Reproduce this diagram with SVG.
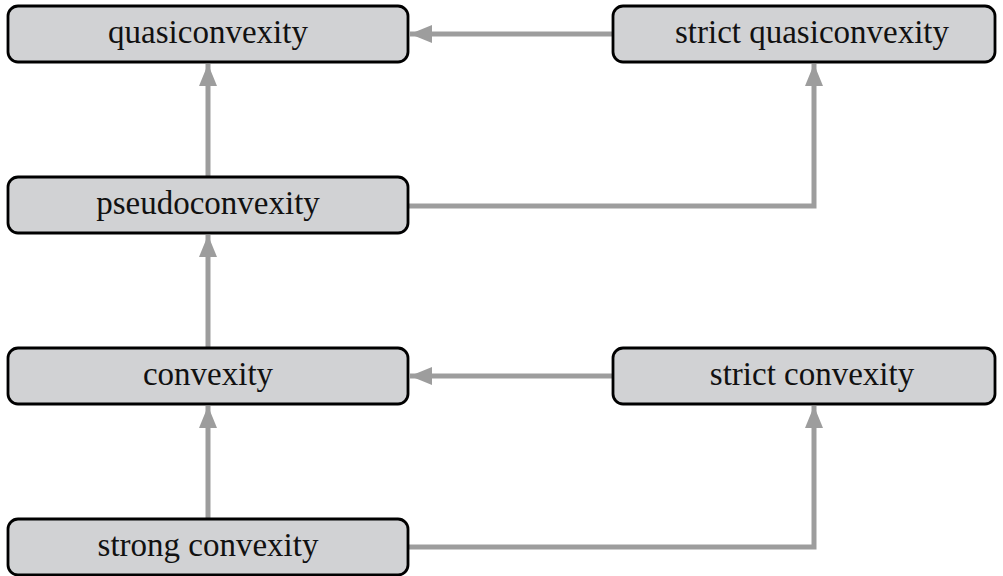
<svg xmlns="http://www.w3.org/2000/svg" width="1003" height="576" viewBox="0 0 1003 576">
<style>
.box{fill:#d1d2d4;stroke:#000;stroke-width:2.8}
.lbl{font-family:"Liberation Serif","DejaVu Serif",serif;font-size:33px;fill:#111;text-anchor:middle}
.con{fill:none;stroke:#9d9d9d;stroke-width:5}
</style>
<defs>
<marker id="ah" viewBox="0 0 22 18" refX="22" refY="9" markerWidth="22" markerHeight="18" markerUnits="userSpaceOnUse" orient="auto">
<path d="M0,0 L22,9 L0,18 Z" fill="#9d9d9d"/>
</marker>
</defs>
<rect width="1003" height="576" fill="#fff"/>
<g id="connectors">
<path class="con" d="M613,34 H410" marker-end="url(#ah)"/>
<path class="con" d="M208,177 V64" marker-end="url(#ah)"/>
<path class="con" d="M408,206 H814 V64" marker-end="url(#ah)"/>
<path class="con" d="M208,348 V235" marker-end="url(#ah)"/>
<path class="con" d="M613,376 H410" marker-end="url(#ah)"/>
<path class="con" d="M208,519 V406" marker-end="url(#ah)"/>
<path class="con" d="M408,547 H814 V406" marker-end="url(#ah)"/>
</g>
<g id="quasiconvexity">
<rect class="box" x="8" y="6" width="400" height="56" rx="10"/>
<text class="lbl" x="208" y="43">quasiconvexity</text>
</g>
<g id="strict-quasiconvexity">
<rect class="box" x="613" y="6" width="382" height="56" rx="10"/>
<text class="lbl" x="812" y="43">strict quasiconvexity</text>
</g>
<g id="pseudoconvexity">
<rect class="box" x="8" y="177" width="400" height="56" rx="10"/>
<text class="lbl" x="208" y="214">pseudoconvexity</text>
</g>
<g id="convexity">
<rect class="box" x="8" y="348" width="400" height="56" rx="10"/>
<text class="lbl" x="208" y="385">convexity</text>
</g>
<g id="strict-convexity">
<rect class="box" x="613" y="348" width="382" height="56" rx="10"/>
<text class="lbl" x="812" y="385">strict convexity</text>
</g>
<g id="strong-convexity">
<rect class="box" x="8" y="519" width="400" height="56" rx="10"/>
<text class="lbl" x="208" y="556">strong convexity</text>
</g>
</svg>
